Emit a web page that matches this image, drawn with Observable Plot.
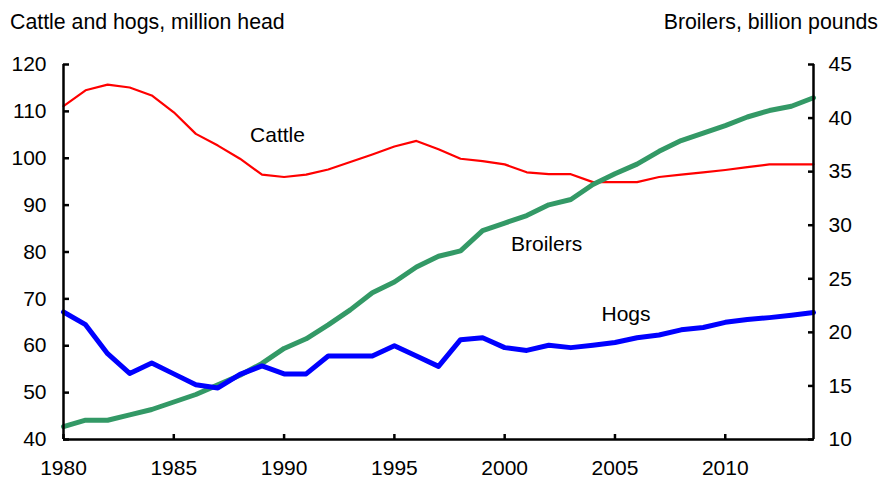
<!DOCTYPE html>
<html><head><meta charset="utf-8">
<script src="https://cdn.jsdelivr.net/npm/d3@7"></script>
<script src="https://cdn.jsdelivr.net/npm/@observablehq/plot@0.6"></script>
<style>
body{margin:0;background:#fff;font-family:"Liberation Sans",Arial,sans-serif;}
#wrap{position:relative;width:883px;height:480px;overflow:hidden;}
.t{position:absolute;top:10px;font-size:21.3px;line-height:24px;color:#000;white-space:nowrap;}
#tl{left:10px;}
#tr{right:5px;}
#chart{position:absolute;left:0;top:0;}
</style></head><body>
<div id="wrap">
<div id="chart"></div>
<div class="t" id="tl">Cattle and hogs, million head</div>
<div class="t" id="tr">Broilers, billion pounds</div>
</div>
<script>
const years = [1980,1981,1982,1983,1984,1985,1986,1987,1988,1989,1990,1991,1992,1993,1994,1995,1996,1997,1998,1999,2000,2001,2002,2003,2004,2005,2006,2007,2008,2009,2010,2011,2012,2013,2014];
const cattle = [111.1,114.5,115.7,115.1,113.4,109.8,105.2,102.7,99.9,96.5,96.0,96.5,97.6,99.2,100.8,102.5,103.7,101.9,99.9,99.4,98.7,97.0,96.6,96.6,94.9,94.9,94.9,96.0,96.5,97.0,97.5,98.1,98.7,98.7,98.7];
const hogs = [67.2,64.5,58.3,54.1,56.3,54.0,51.7,51.0,53.9,55.7,54.0,54.0,57.8,57.8,57.8,60.0,57.8,55.6,61.3,61.7,59.6,59.0,60.1,59.6,60.1,60.7,61.7,62.3,63.4,63.9,65.0,65.6,66.0,66.5,67.1];
const broilers = [11.2,11.8,11.8,12.3,12.8,13.5,14.2,15.1,16.0,17.1,18.5,19.4,20.7,22.1,23.7,24.7,26.1,27.1,27.6,29.5,30.2,30.9,31.9,32.4,33.8,34.8,35.7,36.9,37.9,38.6,39.3,40.1,40.7,41.1,41.9];
const leftTicks = [40,50,60,70,80,90,100,110,120];
const rightTicks = [10,15,20,25,30,35,40,45];
const xTicks = [1980,1985,1990,1995,2000,2005,2010];
const seriesLabels = [
  {name:"Cattle", year:1989.7, value:105.0},
  {name:"Broilers", year:2001.9, value:81.6},
  {name:"Hogs", year:2005.5, value:66.7}
];

const L0 = 40, L1 = 120, R0 = 10, R1 = 45;
const toLeft = b => L0 + (b - R0) * (L1 - L0) / (R1 - R0);
const fromLeft = v => R0 + (v - L0) * (R1 - R0) / (L1 - L0);

const cattleData = years.map((y,i)=>({year:y, v:cattle[i]}));
const hogsData = years.map((y,i)=>({year:y, v:hogs[i]}));
const broilerData = years.map((y,i)=>({year:y, v:toLeft(broilers[i])}));

const chart = Plot.plot({
  width: 883, height: 480,
  marginLeft: 63, marginRight: 70, marginTop: 64, marginBottom: 41,
  style: {fontFamily: '"Liberation Sans", Arial, sans-serif', fontSize: "21px", background: "white", color: "black"},
  x: {domain: [1980, 2014]},
  y: {domain: [L0, L1]},
  marks: [
    Plot.line(cattleData, {x:"year", y:"v", stroke:"#ff0000", strokeWidth:2.2}),
    Plot.line(broilerData, {x:"year", y:"v", stroke:"#339966", strokeWidth:5}),
    Plot.line(hogsData, {x:"year", y:"v", stroke:"#0000ff", strokeWidth:5}),
    Plot.text(seriesLabels, {x:"year", y:"value", text:"name", fontSize:21, fill:"black"}),
    Plot.ruleX([1980, 2014], {stroke:"black", strokeWidth:2.5}),
    Plot.ruleY([L0], {stroke:"black", strokeWidth:2.5}),
    Plot.axisY({anchor:"left", ticks:leftTicks, tickSize:-6, tickPadding:23, strokeWidth:2.5, fontSize:21, label:null}),
    Plot.axisY({anchor:"right", ticks:rightTicks.map(toLeft), tickFormat: d => String(Math.round(fromLeft(d))), tickSize:-6, tickPadding:21, strokeWidth:2.5, fontSize:21, label:null}),
    Plot.axisX({ticks:xTicks, tickFormat: d => String(d), tickSize:-5, tickPadding:26, strokeWidth:2.5, fontSize:21, label:null})
  ]
});
document.getElementById("chart").appendChild(chart);
</script>
</body></html>
